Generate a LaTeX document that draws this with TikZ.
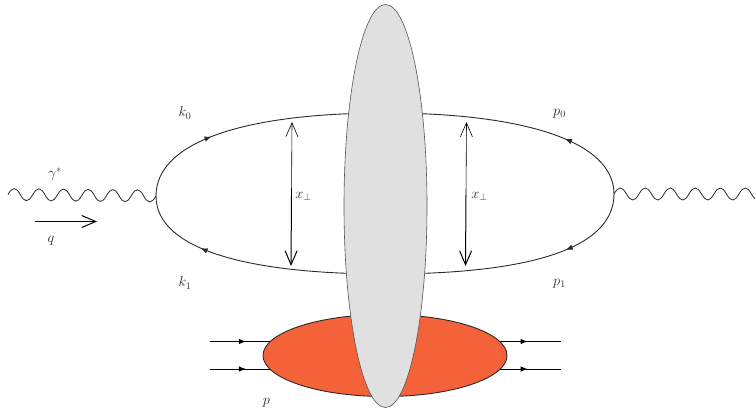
\documentclass[tikz,border=0pt]{standalone}
\usetikzlibrary{arrows.meta,decorations,decorations.markings,shapes.geometric}
\definecolor{blobred}{HTML}{F4623A}
\definecolor{blobgrey}{HTML}{E0E0E0}
\definecolor{inkdark}{HTML}{2A2A2A}
\pgfdeclaredecoration{sinewave}{initial}{
  \state{initial}[width=\pgfdecorationsegmentlength]{
    \pgfpathcurveto
      {\pgfpoint{0.182*\pgfdecorationsegmentlength}{1.3333*\pgfdecorationsegmentamplitude}}
      {\pgfpoint{0.318*\pgfdecorationsegmentlength}{1.3333*\pgfdecorationsegmentamplitude}}
      {\pgfpoint{0.5*\pgfdecorationsegmentlength}{0pt}}
    \pgfpathcurveto
      {\pgfpoint{0.682*\pgfdecorationsegmentlength}{-1.3333*\pgfdecorationsegmentamplitude}}
      {\pgfpoint{0.818*\pgfdecorationsegmentlength}{-1.3333*\pgfdecorationsegmentamplitude}}
      {\pgfpoint{\pgfdecorationsegmentlength}{0pt}}
  }
  \state{final}{\pgfpathlineto{\pgfpointdecoratedpathlast}}
}
\tikzset{
  fermion/.style={draw=inkdark,line width=0.9pt},
  markat/.style={postaction={decorate},decoration={markings,mark=at position #1 with {\arrow{Latex[length=7pt,width=5.5pt]}}}},
  photon/.style={draw=inkdark,line width=0.8pt,decorate,decoration={sinewave,segment length=#1,amplitude=6pt}},
  openarrow/.style={draw=black,line width=#1,-{Straight Barb[length=14pt,width=12pt]}},
  lab/.style={inner sep=0pt,text=inkdark,font=\fontsize{14.5}{17}\selectfont},
  quark/.style={draw=black,line width=1pt},
}
\begin{document}
\begin{tikzpicture}[x=1pt,y=-1pt]
\useasboundingbox (0,0) rectangle (755,407);
\clip (0,0) rectangle (755,407);
% loop vertices
\coordinate (vl) at (156,196);
\coordinate (vr) at (614,194);
\coordinate (top) at (385,113);
\coordinate (bot) at (385,274);
\coordinate (wl) at (8,194.5);
\coordinate (wr) at (764,194);
% loop
\path[fermion,markat=0.33] (vl) .. controls (156,140) and (250,113) .. (top);
\path[fermion,markat=0.3] (vr) .. controls (614,140) and (520,113) .. (top);
\path[fermion,markat=0.3] (vr) .. controls (614,250) and (525,274) .. (bot);
\path[fermion,markat=0.72] (bot) .. controls (250,274) and (156,250) .. (vl);
% photons
\path[photon=24.66pt] (wl) -- (vl);
\path[photon=24.99pt] (vr) -- (wr);
% q arrow
\coordinate (qa) at (35,221.5);
\coordinate (qb) at (97,221.5);
\draw[openarrow=1pt] (qa) -- (qb);
% separation arrows
\coordinate (a1t) at (292,122);
\coordinate (a1m) at (291.5,195);
\coordinate (a1b) at (291,266);
\coordinate (a2t) at (466.5,122);
\coordinate (a2m) at (466,195);
\coordinate (a2b) at (465.5,266);
\draw[openarrow=0.6pt] (a1m) -- (a1t);
\draw[openarrow=1pt] (a1m) -- (a1b);
\draw[openarrow=0.6pt] (a2m) -- (a2t);
\draw[openarrow=1pt] (a2m) -- (a2b);
% proton
\coordinate (pl1) at (210,341.5);
\coordinate (pl2) at (210,369);
\coordinate (pr1) at (561,341.5);
\coordinate (pr2) at (561,369);
\coordinate (pe1) at (272,341.5);
\coordinate (pe2) at (272,369);
\coordinate (pf1) at (498,341.5);
\coordinate (pf2) at (498,369);
\path[quark,markat=0.58] (pl1) -- (pe1);
\path[quark,markat=0.58] (pl2) -- (pe2);
\path[quark,markat=0.47] (pf1) -- (pr1);
\path[quark,markat=0.47] (pf2) -- (pr2);
\node[ellipse,draw=inkdark,line width=0.9pt,fill=blobred,inner sep=0pt,minimum width=244pt,minimum height=82pt] (proton) at (385,355.5) {};
\node[ellipse,draw=inkdark!80,line width=0.6pt,fill=blobgrey,inner sep=0pt,minimum width=83pt,minimum height=403pt] (target) at (385.5,206) {};
% labels
\node[lab] (k0) at (185,113) {$k_0$};
\node[lab] (k1) at (185,283) {$k_1$};
\node[lab] (p0) at (559.5,114) {$p_0$};
\node[lab] (p1) at (559.5,284) {$p_1$};
\node[lab] (gam) at (55,174) {$\gamma^*$};
\node[lab] (q) at (51,241) {$q$};
\node[lab] (p) at (266.5,403) {$p$};
\node[lab] (x1) at (303.5,196) {$x_\perp$};
\node[lab] (x2) at (479.5,196) {$x_\perp$};
\end{tikzpicture}
\end{document}
